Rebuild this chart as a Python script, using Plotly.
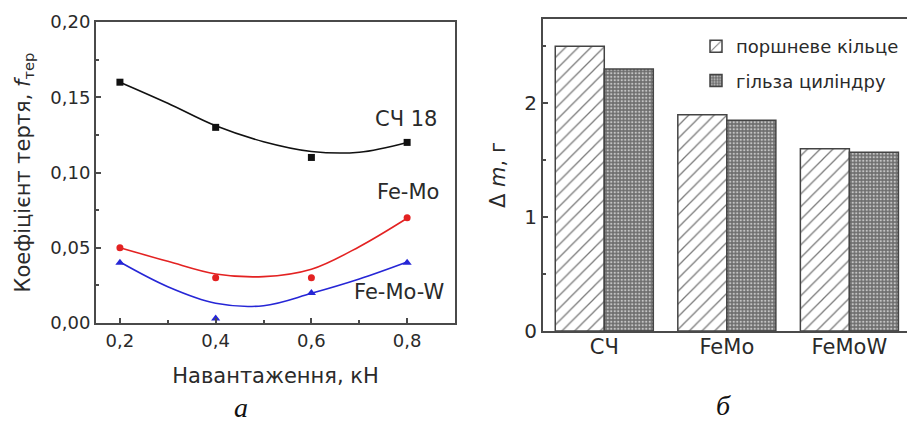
import plotly.graph_objects as go

# ---------------- data (panel a) ----------------
load_kn = [0.2, 0.4, 0.6, 0.8]
f_sch18 = [0.16, 0.13, 0.11, 0.12]
f_femo = [0.05, 0.03, 0.03, 0.07]
f_femow = [0.04, 0.003, 0.02, 0.04]

# smooth fitted curves
fit_x = [0.2, 0.3, 0.4, 0.5, 0.6, 0.7, 0.8]
fit_sch18 = [0.160, 0.146, 0.131, 0.1205, 0.114, 0.1135, 0.120]
fit_femo = [0.050, 0.041, 0.0326, 0.0308, 0.0357, 0.0507, 0.0696]
fit_femow = [0.0405, 0.0241, 0.0131, 0.0115, 0.0197, 0.0292, 0.0405]

# ---------------- data (panel b) ----------------
materials = ["СЧ", "FeMo", "FeMoW"]
ring_loss = [2.5, 1.9, 1.6]
liner_loss = [2.3, 1.85, 1.57]
ring_name = "поршневе кільце"
liner_name = "гільза циліндру"

FONT = "DejaVu Sans"
AX = "#4a4a4a"
TXT = "#2a2a2a"

fig = go.Figure()

series = [
    (f_sch18, fit_sch18, "#111111", "square", "СЧ 18", 7),
    (f_femo, fit_femo, "#e32222", "circle", "Fe-Mo", 7),
    (f_femow, fit_femow, "#2626d6", "triangle-up", "Fe-Mo-W", 8),
]
for pts, fit, col, sym, name, ms in series:
    fig.add_trace(go.Scatter(x=fit_x, y=fit, mode="lines", line=dict(color=col, width=1.6, shape="spline"),
                             showlegend=False, hoverinfo="skip", xaxis="x", yaxis="y"))
    fig.add_trace(go.Scatter(x=load_kn, y=pts, mode="markers", name=name,
                             marker=dict(color=col, symbol=sym, size=ms), showlegend=False,
                             cliponaxis=False, xaxis="x", yaxis="y"))

fig.add_trace(go.Bar(x=materials, y=ring_loss, name=ring_name, xaxis="x2", yaxis="y2",
                     legendgroup="a",
                     marker=dict(color="white", line=dict(color="#444444", width=1.5),
                                 pattern=dict(shape="/", fgcolor="#7a7a7a", bgcolor="white",
                                              size=9, solidity=0.14, fillmode="replace"))))
fig.add_trace(go.Bar(x=materials, y=liner_loss, name=liner_name, xaxis="x2", yaxis="y2",
                     legendgroup="b",
                     marker=dict(color="#808080", line=dict(color="#444444", width=1.5),
                                 pattern=dict(shape=".", fgcolor="#c4c4c4", bgcolor="#6e6e6e",
                                              size=3.5, solidity=0.35, fillmode="replace"))))

labels = [("СЧ 18", 0.798, 0.1356), ("Fe-Mo", 0.802, 0.087), ("Fe-Mo-W", 0.783, 0.0206)]
annotations = [dict(text=t, x=x, y=y, xref="x", yref="y", showarrow=False,
                    font=dict(family=FONT, size=21, color=TXT)) for t, x, y in labels]
annotations += [
    dict(text="<i>а</i>", x=241 / 907, y=1 - 407 / 423, xref="paper", yref="paper", showarrow=False,
         xanchor="center", yanchor="middle",
         font=dict(family="Liberation Serif", size=28, color="#111")),
    dict(text="<i>б</i>", x=723 / 907, y=1 - 405 / 423, xref="paper", yref="paper", showarrow=False,
         xanchor="center", yanchor="middle",
         font=dict(family="Liberation Serif", size=28, color="#111")),
]

common = dict(showline=True, linecolor=AX, linewidth=2, ticks="inside", tickcolor=AX,
              ticklen=5, tickwidth=1.5, showgrid=False, zeroline=False, automargin=False,
              tickfont=dict(family=FONT, size=18, color=TXT))

fig.update_layout(
    template="none",
    width=907, height=423,
    margin=dict(l=0, r=0, t=0, b=0),
    paper_bgcolor="white", plot_bgcolor="white",
    separators=", ",
    barmode="group", bargap=0.2, bargroupgap=0,
    annotations=annotations,
    xaxis=dict(domain=[96 / 907, 455 / 907], range=[0.15, 0.9], anchor="y", mirror=True,
               tickvals=[0.2, 0.4, 0.6, 0.8], tickformat=".1f",
               minor=dict(ticks="inside", ticklen=3, tickcolor=AX, tickvals=[0.3, 0.5, 0.7]),
               title=dict(text="Навантаження, кН", font=dict(family=FONT, size=21, color=TXT),
                          standoff=19),
               **common),
    yaxis=dict(domain=[1 - 323 / 423, 1 - 22 / 423], range=[0, 0.2], anchor="x", mirror=True,
               tickvals=[0, 0.05, 0.1, 0.15, 0.2], tickformat=".2f",
               minor=dict(ticks="inside", ticklen=3, tickcolor=AX,
                          tickvals=[0.025, 0.075, 0.125, 0.175]),
               title=dict(text="Коефіцієнт тертя, <i>f</i><sub>тер</sub>",
                          font=dict(family=FONT, size=21, color=TXT), standoff=14),
               **common),
    xaxis2=dict(domain=[543 / 907, 1.0], range=[-0.5, 2.47], anchor="y2", mirror=True,
                ticklabelstandoff=-4,
                **{**common, "ticks": "", "tickfont": dict(family=FONT, size=21, color=TXT)}),
    yaxis2=dict(domain=[1 - 331 / 423, 1 - 19 / 423], range=[0, 2.74], anchor="x2", mirror=False,
                tickvals=[0, 1, 2],
                minor=dict(ticks="inside", ticklen=3, tickcolor=AX, tickvals=[0.5, 1.5, 2.5]),
                title=dict(text="Δ <i>m</i>, г", font=dict(family=FONT, size=21, color=TXT),
                           standoff=13),
                **{**common, "tickfont": dict(family=FONT, size=20, color=TXT)}),
    legend=dict(x=696 / 907, y=1 - 28 / 423, xanchor="left", yanchor="top",
                bgcolor="rgba(0,0,0,0)", borderwidth=0, tracegroupgap=8,
                font=dict(family=FONT, size=18, color=TXT)),
)

fig.write_html("out.html", config={"displayModeBar": False},
               post_script="document.body.style.margin='0';document.body.style.overflow='hidden';")
